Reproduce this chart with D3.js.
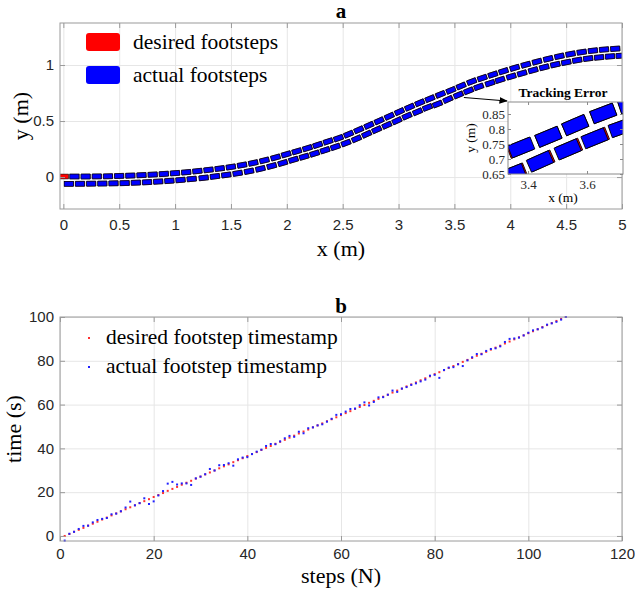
<!DOCTYPE html>
<html>
<head>
<meta charset="utf-8">
<script src="https://cdn.jsdelivr.net/npm/d3@7"></script>
<style>
body { margin: 0; background: #fff; }
svg { display: block; }
.serif { font-family: "Liberation Serif", "Times New Roman", serif; fill: #000; }
.ticks text { font-family: "Liberation Sans", Arial, sans-serif; font-size: 15px; fill: #262626; }
.inset-ticks text { font-family: "Liberation Serif", "Times New Roman", serif; font-size: 13px; fill: #262626; }
</style>
</head>
<body>
<svg id="chart" width="635" height="591"></svg>
<script>
// ---- panel a: footstep centres (m) ----
const initialFoot = [0.005, 0.005];   // desired-only first stance foot

const leftX = [0.10,0.20,0.30,0.40,0.50,0.60,0.70,0.80,0.90,1.00,1.10,1.20,1.30,1.40,1.50,1.60,1.70,1.80,1.90,
  1.995,2.09,2.185,2.277,2.37,2.463,2.554,2.645,2.736,2.827,2.918,3.009,3.100,3.191,3.282,
  3.373,3.469,3.56,3.655,3.75,3.845,3.94,4.04,4.14,4.24,4.34,4.44,4.54,4.64,4.74,4.84,4.94];
const leftY = [0.005,0.005,0.006,0.007,0.010,0.013,0.017,0.022,0.028,0.035,0.043,0.053,0.064,0.076,0.090,0.107,0.126,0.149,0.175,
  0.203,0.230,0.258,0.287,0.318,0.347,0.383,0.422,0.462,0.502,0.543,0.584,0.624,0.663,0.700,
  0.737,0.774,0.813,0.852,0.884,0.915,0.945,0.975,1.003,1.030,1.055,1.078,1.098,1.115,1.128,1.138,1.145];

const rightX = [0.05,0.15,0.25,0.35,0.45,0.55,0.65,0.75,0.85,0.95,1.05,1.15,
  1.257,1.358,1.459,1.561,1.663,1.765,1.866,1.965,
  2.061,2.156,2.25,2.343,2.436,2.531,2.625,2.716,2.806,2.897,2.987,3.077,3.171,3.261,3.351,
  3.445,3.539,3.63,3.72,3.82,3.91,4.01,4.107,4.206,4.305,4.404,4.502,4.60,4.698,4.796,4.894,4.99];
const rightY = [-0.060,-0.060,-0.059,-0.058,-0.056,-0.054,-0.050,-0.046,-0.040,-0.034,-0.026,-0.017,
  -0.007,0.006,0.019,0.034,0.052,0.074,0.099,0.126,
  0.155,0.182,0.210,0.240,0.270,0.304,0.342,0.383,0.423,0.463,0.503,0.545,0.583,0.622,0.652,
  0.694,0.734,0.771,0.806,0.838,0.868,0.898,0.926,0.954,0.980,1.004,1.024,1.043,1.058,1.068,1.077,1.083];

// tracking error along the path (m, + = actual behind desired)
const leftErr = [0.001,0.001,0.001,0.001,0.001,0.001,0.001,0.001,0.001,0.001,0.001,0.001,0.001,0.001,0.001,0.001,0.001,0.001,0.001,
  0.001,0.001,0.001,0.001,0.001,0.001,0.001,0.001,0.001,0.001,0.001,0.001,0.001,0.001,0.001,
  -0.004,0.000,0.000,0.000,0.001,0.001,0.001,0.001,0.001,0.001,0.001,0.001,0.001,0.001,0.001,0.001,0.001];
const rightErr = [0.002,0.002,0.002,0.002,0.002,0.002,0.002,0.002,0.002,0.002,0.002,0.002,
  0.002,0.002,0.002,0.002,0.002,0.002,0.002,0.002,
  0.002,0.002,0.002,0.002,0.002,0.002,0.002,0.002,0.002,0.002,0.002,0.002,0.002,0.003,0.004,
  0.005,0.005,0.005,0.003,0.002,0.002,0.002,0.002,0.002,0.002,0.002,0.002,0.002,0.002,0.002,0.002,0.002];

const xTicksA = [0,0.5,1,1.5,2,2.5,3,3.5,4,4.5,5];
const yTicksA = [0,0.5,1];
const insetXTicks = [3.4,3.6];
const insetYTicks = [0.65,0.7,0.75,0.8,0.85];

// ---- panel b: footstep timestamps (s) ----
const desiredTime = [0.0,0.9,1.9,2.8,3.7,4.7,5.6,6.5,7.5,8.4,9.4,10.3,11.2,12.2,13.1,14.0,15.0,15.9,16.8,17.8,
  18.7,19.6,20.6,21.5,22.4,23.4,24.3,25.2,26.2,27.1,28.1,29.0,29.9,30.9,31.8,32.7,33.7,34.6,35.5,36.5,
  37.4,38.3,39.3,40.2,41.1,42.1,43.0,43.9,44.9,45.8,46.8,47.7,48.6,49.6,50.5,51.4,52.4,53.3,54.2,55.2,
  56.1,57.0,58.0,58.9,59.8,60.8,61.7,62.6,63.6,64.5,65.5,66.4,67.3,68.3,69.2,70.1,71.1,72.0,72.9,73.9,
  74.8,75.7,76.7,77.6,78.5,79.5,80.4,81.3,82.3,83.2,84.1,85.1,86.0,86.9,87.9,88.8,89.8,90.7,91.6,92.6,
  93.5,94.4,95.4,96.3,97.2,98.2,99.1,100.0];
const actualTime = [-2.1,1.0,1.9,3.2,4.6,4.7,6.2,7.3,7.8,8.2,9.9,10.2,11.3,13.0,15.7,14.0,15.0,17.2,14.6,15.8,
  18.5,20.5,23.9,24.7,23.5,24.0,24.0,23.3,26.3,27.1,28.2,30.6,29.9,32.3,32.4,33.2,32.1,35.0,35.8,36.0,
  37.4,38.5,39.4,41.1,42.0,41.9,43.2,44.6,45.7,45.3,47.6,46.9,49.2,49.6,50.5,51.0,52.2,53.5,55.3,55.6,
  56.8,58.0,58.2,59.7,61.0,59.6,61.2,63.3,63.4,64.5,66.4,65.8,67.3,68.0,69.0,69.7,70.6,71.4,73.2,73.6,
  72.2,75.8,76.9,77.1,78.4,77.6,80.2,81.6,83.1,83.0,84.5,85.4,85.7,86.6,88.6,90.0,90.2,90.6,91.6,92.8,
  93.9,94.4,95.2,96.5,97.1,97.8,98.8,100.0];
const xTicksB = [0,20,40,60,80,100,120];
const yTicksB = [0,20,40,60,80,100];

const svg = d3.select('#chart');
const footLen = 0.082, footWid = 0.043;

// light grid behind the data
function frame(g, sx, sy, xt, yt) {
  const [x0, x1] = sx.range(), [y0, y1] = sy.range();
  g.append('g').attr('transform', `translate(0,${y0})`)
    .call(d3.axisBottom(sx).tickValues(xt).tickSize(-(y0 - y1)).tickFormat(''))
    .call(a => a.select('.domain').remove())
    .selectAll('line').attr('stroke', '#e6e6e6');
  g.append('g').attr('transform', `translate(${x0},0)`)
    .call(d3.axisLeft(sy).tickValues(yt).tickSize(-(x1 - x0)).tickFormat(''))
    .call(a => a.select('.domain').remove())
    .selectAll('line').attr('stroke', '#e6e6e6');
}

// inward ticks on all four sides + grey box
function box(g, sx, sy, xt, yt, opt) {
  const [x0, x1] = sx.range(), [y0, y1] = sy.range();
  const cls = opt.cls, ts = opt.tick;
  const fmt = opt.fmt || (d => d);
  const bottom = g.append('g').attr('class', cls).attr('transform', `translate(0,${y0})`)
    .call(d3.axisBottom(sx).tickValues(xt).tickSize(-ts).tickPadding(opt.padX).tickFormat(fmt));
  const left = g.append('g').attr('class', cls).attr('transform', `translate(${x0},0)`)
    .call(d3.axisLeft(sy).tickValues(yt).tickSize(-ts).tickPadding(opt.padY).tickFormat(fmt));
  const top = g.append('g').attr('transform', `translate(0,${y1})`)
    .call(d3.axisTop(sx).tickValues(xt).tickSize(-ts).tickFormat(''));
  const right = g.append('g').attr('transform', `translate(${x1},0)`)
    .call(d3.axisRight(sy).tickValues(yt).tickSize(-ts).tickFormat(''));
  [bottom, left, top, right].forEach(a => {
    a.select('.domain').remove();
    a.selectAll('line').attr('stroke', opt.color);
  });
  g.append('rect').attr('x', x0).attr('y', y1).attr('width', x1 - x0).attr('height', y0 - y1)
    .attr('fill', 'none').attr('stroke', opt.color).attr('stroke-width', 1);
}

function feet(xs, ys, errs) {
  return xs.map((x, i) => {
    const a = Math.max(i - 1, 0), b = Math.min(i + 1, xs.length - 1);
    const dx = xs[b] - xs[a], dy = ys[b] - ys[a], n = Math.hypot(dx, dy);
    const e = errs ? errs[i] : 0;
    return { x: x - e * dx / n, y: ys[i] - e * dy / n, tx: dx, ty: dy };
  });
}

function drawFeet(g, list, sx, sy, color, sw) {
  const L = footLen * (sx(1) - sx(0)), W = footWid * (sy(0) - sy(1));
  g.selectAll(null).data(list).join('rect')
    .attr('transform', d => {
      const ang = Math.atan2(sy(d.ty) - sy(0), sx(d.tx) - sx(0)) * 180 / Math.PI;
      return `translate(${sx(d.x)},${sy(d.y)}) rotate(${ang})`;
    })
    .attr('x', -L / 2).attr('y', -W / 2).attr('width', L).attr('height', W)
    .attr('fill', color).attr('stroke', '#000').attr('stroke-width', sw);
}

const desiredFeet = [{ x: initialFoot[0], y: initialFoot[1], tx: 1, ty: 0 }]
  .concat(feet(leftX, leftY), feet(rightX, rightY));
const actualFeet = feet(leftX, leftY, leftErr).concat(feet(rightX, rightY, rightErr));

// ================= panel a =================
const xA = d3.scaleLinear().domain([-0.03, 5]).range([60, 622]);
const yA = d3.scaleLinear().domain([-0.285, 1.375]).range([209, 23]);
const gA = svg.append('g');
frame(gA, xA, yA, xTicksA, yTicksA);

svg.append('clipPath').attr('id', 'clipA').append('rect')
  .attr('x', 60).attr('y', 23).attr('width', 562).attr('height', 186);
const feetA = gA.append('g').attr('clip-path', 'url(#clipA)');
drawFeet(feetA, desiredFeet, xA, yA, '#ff0000', 0.6);
drawFeet(feetA, actualFeet, xA, yA, '#0000ff', 0.6);

box(gA, xA, yA, xTicksA, yTicksA, { cls: 'ticks', tick: 5, padX: 10, padY: 6, color: '#9a9a9a' });

gA.append('text').attr('class', 'serif').attr('x', 341).attr('y', 18)
  .attr('text-anchor', 'middle').attr('font-size', 21).attr('font-weight', 'bold').text('a');
gA.append('text').attr('class', 'serif').attr('x', 341).attr('y', 256)
  .attr('text-anchor', 'middle').attr('font-size', 22).text('x (m)');
gA.append('text').attr('class', 'serif').attr('transform', 'translate(28,116) rotate(-90)')
  .attr('text-anchor', 'middle').attr('font-size', 22).text('y (m)');

// legend a
const legA = [{ label: 'desired footsteps', color: '#ff0000', y: 33 }, { label: 'actual footsteps', color: '#0000ff', y: 66 }];
legA.forEach(d => {
  gA.append('rect').attr('x', 86).attr('y', d.y).attr('width', 34).attr('height', 18)
    .attr('rx', 3).attr('fill', d.color);
  gA.append('text').attr('class', 'serif').attr('x', 133).attr('y', d.y + 15.5)
    .attr('font-size', 21.5).text(d.label);
});

// inset
const xI = d3.scaleLinear().domain([3.332, 3.722]).range([508, 623]);
const yI = d3.scaleLinear().domain([0.65, 0.89]).range([174, 102]);
const gI = svg.append('g');
gI.append('rect').attr('x', 508).attr('y', 102).attr('width', 115).attr('height', 72).attr('fill', '#fff');
svg.append('clipPath').attr('id', 'clipI').append('rect')
  .attr('x', 508).attr('y', 102).attr('width', 115).attr('height', 72);
const feetI = gI.append('g').attr('clip-path', 'url(#clipI)');
drawFeet(feetI, desiredFeet, xI, yI, '#ff0000', 0.8);
drawFeet(feetI, actualFeet, xI, yI, '#0000ff', 0.8);
box(gI, xI, yI, insetXTicks, insetYTicks, { cls: 'inset-ticks', tick: 3, padX: 6, padY: 3, color: '#8a8a8a',
  fmt: d => String(d) });
gI.append('text').attr('class', 'serif').attr('x', 563).attr('y', 97)
  .attr('text-anchor', 'middle').attr('font-size', 13.5).attr('font-weight', 'bold').text('Tracking Error');
gI.append('text').attr('class', 'serif').attr('x', 563).attr('y', 202)
  .attr('text-anchor', 'middle').attr('font-size', 13.5).text('x (m)');
gI.append('text').attr('class', 'serif').attr('transform', 'translate(475,138) rotate(-90)')
  .attr('text-anchor', 'middle').attr('font-size', 13.5).text('y (m)');

// arrow to inset
svg.append('defs').append('marker').attr('id', 'head').attr('viewBox', '0 0 10 10')
  .attr('refX', 9).attr('refY', 5).attr('markerWidth', 7).attr('markerHeight', 7)
  .attr('orient', 'auto').append('path').attr('d', 'M0,1 L10,5 L0,9 z').attr('fill', '#000');
svg.append('line').attr('x1', xA(3.585)).attr('y1', yA(0.71)).attr('x2', 507).attr('y2', 101)
  .attr('stroke', '#000').attr('stroke-width', 1.2).attr('marker-end', 'url(#head)');

// ================= panel b =================
const xB = d3.scaleLinear().domain([0, 120]).range([60, 622]);
const yB = d3.scaleLinear().domain([-2.3, 100]).range([541, 317]);
const gB = svg.append('g');
frame(gB, xB, yB, xTicksB, yTicksB);

const steps = desiredTime.map((d, i) => i + 1);
gB.append('g').selectAll('rect').data(steps).join('rect')
  .attr('x', s => xB(s) - 1).attr('y', s => yB(desiredTime[s - 1]) - 1)
  .attr('width', 2).attr('height', 2).attr('fill', '#ff3030');
gB.append('g').selectAll('rect').data(steps).join('rect')
  .attr('x', s => xB(s) - 1).attr('y', s => yB(actualTime[s - 1]) - 1)
  .attr('width', 2).attr('height', 2).attr('fill', '#2020ff');

box(gB, xB, yB, xTicksB, yTicksB, { cls: 'ticks', tick: 5, padX: 7, padY: 6, color: '#9a9a9a' });

gB.append('text').attr('class', 'serif').attr('x', 341).attr('y', 313)
  .attr('text-anchor', 'middle').attr('font-size', 21).attr('font-weight', 'bold').text('b');
gB.append('text').attr('class', 'serif').attr('x', 341).attr('y', 583)
  .attr('text-anchor', 'middle').attr('font-size', 22).text('steps (N)');
gB.append('text').attr('class', 'serif').attr('transform', 'translate(21,429) rotate(-90)')
  .attr('text-anchor', 'middle').attr('font-size', 22).text('time (s)');

const legB = [{ label: 'desired footstep timestamp', color: '#ff3030', y: 338 },
  { label: 'actual footstep timestamp', color: '#2020ff', y: 367 }];
legB.forEach(d => {
  gB.append('rect').attr('x', 88).attr('y', d.y - 1).attr('width', 2).attr('height', 2).attr('fill', d.color);
  gB.append('text').attr('class', 'serif').attr('x', 106).attr('y', d.y + 6)
    .attr('font-size', 21.5).text(d.label);
});
</script>
</body>
</html>
